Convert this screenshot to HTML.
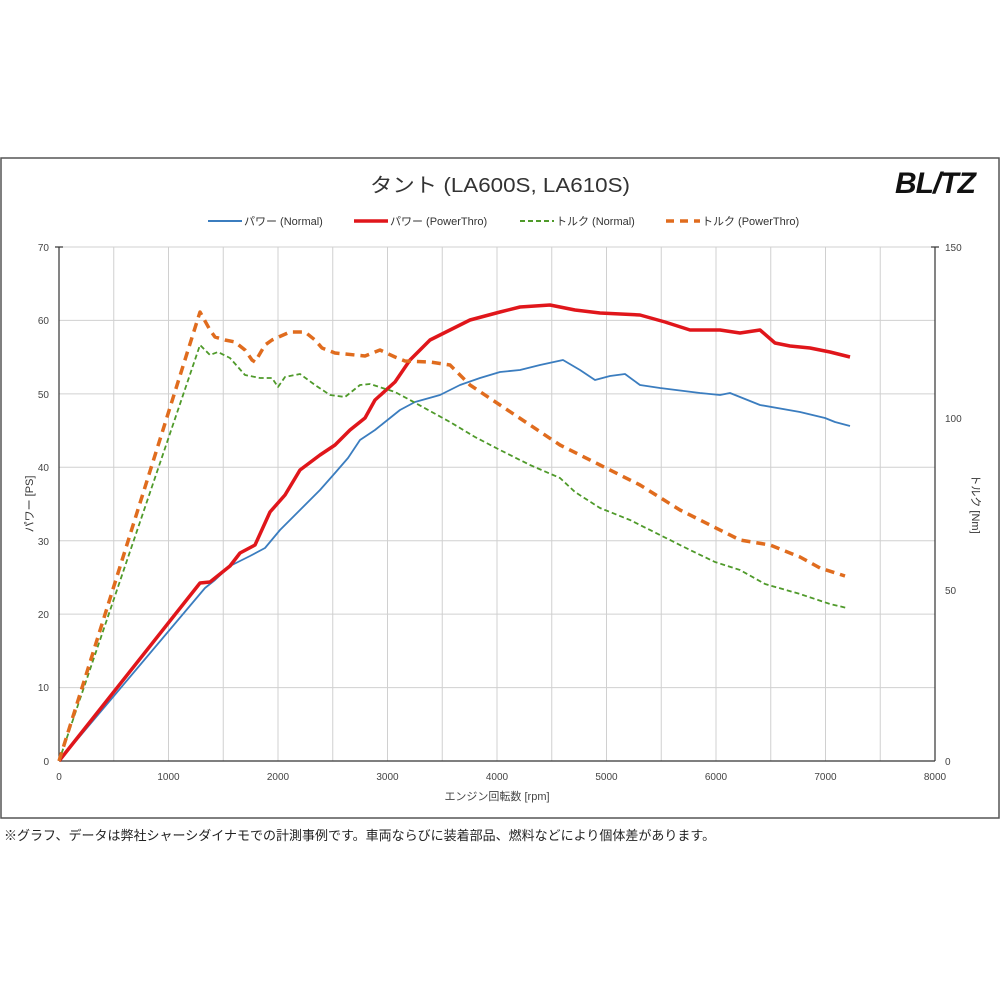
<!DOCTYPE html>
<html><head><meta charset="utf-8"><style>
body{margin:0;background:#fff;width:1000px;height:1000px;overflow:hidden;font-family:"Liberation Sans","Noto Sans CJK JP",sans-serif}
</style></head><body>
<svg width="1000" height="1000" xmlns="http://www.w3.org/2000/svg" font-family="Liberation Sans, Noto Sans CJK JP, sans-serif">
<rect x="1" y="158" width="998" height="660" fill="#fff" stroke="#555" stroke-width="1.5"/>
<text x="500" y="192" font-size="20" text-anchor="middle" fill="#333" textLength="260" lengthAdjust="spacingAndGlyphs">タント (LA600S, LA610S)</text>
<text x="935" y="193" font-size="30" font-weight="bold" font-style="italic" text-anchor="middle" fill="#111" letter-spacing="-1">BL/TZ</text>
<g font-size="11" fill="#333">
<line x1="208" y1="221" x2="242" y2="221" stroke="#3b7dbf" stroke-width="2"/><text x="244" y="225">パワー (Normal)</text>
<line x1="354" y1="221" x2="388" y2="221" stroke="#e0161b" stroke-width="3.5"/><text x="390" y="225">パワー (PowerThro)</text>
<line x1="520" y1="221" x2="554" y2="221" stroke="#4f9a2a" stroke-width="2" stroke-dasharray="5,3"/><text x="556" y="225">トルク (Normal)</text>
<line x1="666" y1="221" x2="700" y2="221" stroke="#e06c1e" stroke-width="3.5" stroke-dasharray="8,6"/><text x="702" y="225">トルク (PowerThro)</text>
</g>
<g stroke="#d0d0d0" stroke-width="1">
<line x1="113.75" y1="247" x2="113.75" y2="761"/><line x1="168.5" y1="247" x2="168.5" y2="761"/><line x1="223.25" y1="247" x2="223.25" y2="761"/><line x1="278" y1="247" x2="278" y2="761"/><line x1="332.75" y1="247" x2="332.75" y2="761"/><line x1="387.5" y1="247" x2="387.5" y2="761"/><line x1="442.25" y1="247" x2="442.25" y2="761"/><line x1="497" y1="247" x2="497" y2="761"/><line x1="551.75" y1="247" x2="551.75" y2="761"/><line x1="606.5" y1="247" x2="606.5" y2="761"/><line x1="661.25" y1="247" x2="661.25" y2="761"/><line x1="716" y1="247" x2="716" y2="761"/><line x1="770.75" y1="247" x2="770.75" y2="761"/><line x1="825.5" y1="247" x2="825.5" y2="761"/><line x1="880.25" y1="247" x2="880.25" y2="761"/>
<line x1="59" y1="247" x2="935" y2="247"/><line x1="59" y1="320.4" x2="935" y2="320.4"/><line x1="59" y1="393.9" x2="935" y2="393.9"/><line x1="59" y1="467.3" x2="935" y2="467.3"/><line x1="59" y1="540.7" x2="935" y2="540.7"/><line x1="59" y1="614.1" x2="935" y2="614.1"/><line x1="59" y1="687.6" x2="935" y2="687.6"/>
</g>
<g stroke="#333" stroke-width="1.2">
<line x1="59" y1="247" x2="59" y2="761"/><line x1="935" y1="247" x2="935" y2="761"/><line x1="59" y1="761" x2="935" y2="761"/>
<line x1="55" y1="247" x2="63" y2="247"/><line x1="931" y1="247" x2="939" y2="247"/>
</g>
<g font-size="10" fill="#444" text-anchor="end">
<text x="49" y="251">70</text><text x="49" y="324">60</text><text x="49" y="398">50</text><text x="49" y="471">40</text><text x="49" y="545">30</text><text x="49" y="618">20</text><text x="49" y="691">10</text><text x="49" y="765">0</text>
</g>
<g font-size="10" fill="#444">
<text x="945" y="251">150</text><text x="945" y="422">100</text><text x="945" y="594">50</text><text x="945" y="765">0</text>
</g>
<g font-size="10" fill="#444" text-anchor="middle">
<text x="59" y="780">0</text><text x="168.5" y="780">1000</text><text x="278" y="780">2000</text><text x="387.5" y="780">3000</text><text x="497" y="780">4000</text><text x="606.5" y="780">5000</text><text x="716" y="780">6000</text><text x="825.5" y="780">7000</text><text x="935" y="780">8000</text>
<text x="497" y="800" font-size="11">エンジン回転数 [rpm]</text>
</g>
<text transform="translate(33,504) rotate(-90)" font-size="11" fill="#333" text-anchor="middle">パワー [PS]</text>
<text transform="translate(972,504) rotate(90)" font-size="11" fill="#333" text-anchor="middle">トルク [Nm]</text>
<g fill="none" stroke-linejoin="round">
<polyline stroke="#3b7dbf" stroke-width="1.8" points="59,761 205,588 215,580 230,566 250,556 265,548 280,530 300,510 320,490 335,473 348,458 360,440 375,430 390,418 400,410 415,402 440,395 460,385 480,378 500,372 520,370 540,365 563,360 580,370 595,380 610,376 625,374 640,385 660,388 700,393 720,395 730,393 760,405 800,412 825,418 835,422 850,426"/>
<polyline stroke="#e0161b" stroke-width="3.5" points="59,761 200,583 210,582 230,566 240,553 255,545 270,512 285,495 300,470 320,455 335,445 350,430 365,418 375,400 395,382 410,360 430,340 450,330 470,320 500,312 520,307 550,305 575,310 600,313 640,315 665,322 690,330 720,330 740,333 760,330 775,343 790,346 810,348 830,352 850,357"/>
<polyline stroke="#4f9a2a" stroke-width="1.8" stroke-dasharray="5,3" points="59,761 200,345 210,355 218,352 230,358 245,375 260,378 272,378 278,387 285,377 300,374 315,385 330,395 345,397 360,385 370,384 395,392 410,400 450,422 475,437 500,450 530,465 560,478 575,492 600,508 630,520 660,535 690,550 715,562 740,570 765,584 800,594 830,604 847,608"/>
<polyline stroke="#e06c1e" stroke-width="3.5" stroke-dasharray="9,6" points="59,761 200,312 210,330 215,337 225,340 235,342 245,350 252,360 255,362 265,345 272,340 290,332 305,332 315,340 322,348 335,353 365,356 380,350 395,357 405,361 430,362 450,365 470,385 500,405 530,425 560,445 600,465 640,485 680,510 710,525 740,540 770,545 800,557 820,568 845,576"/>
</g>
<text x="4" y="840" font-size="13" fill="#222">※グラフ、データは弊社シャーシダイナモでの計測事例です。車両ならびに装着部品、燃料などにより個体差があります。</text>
</svg>
</body></html>
